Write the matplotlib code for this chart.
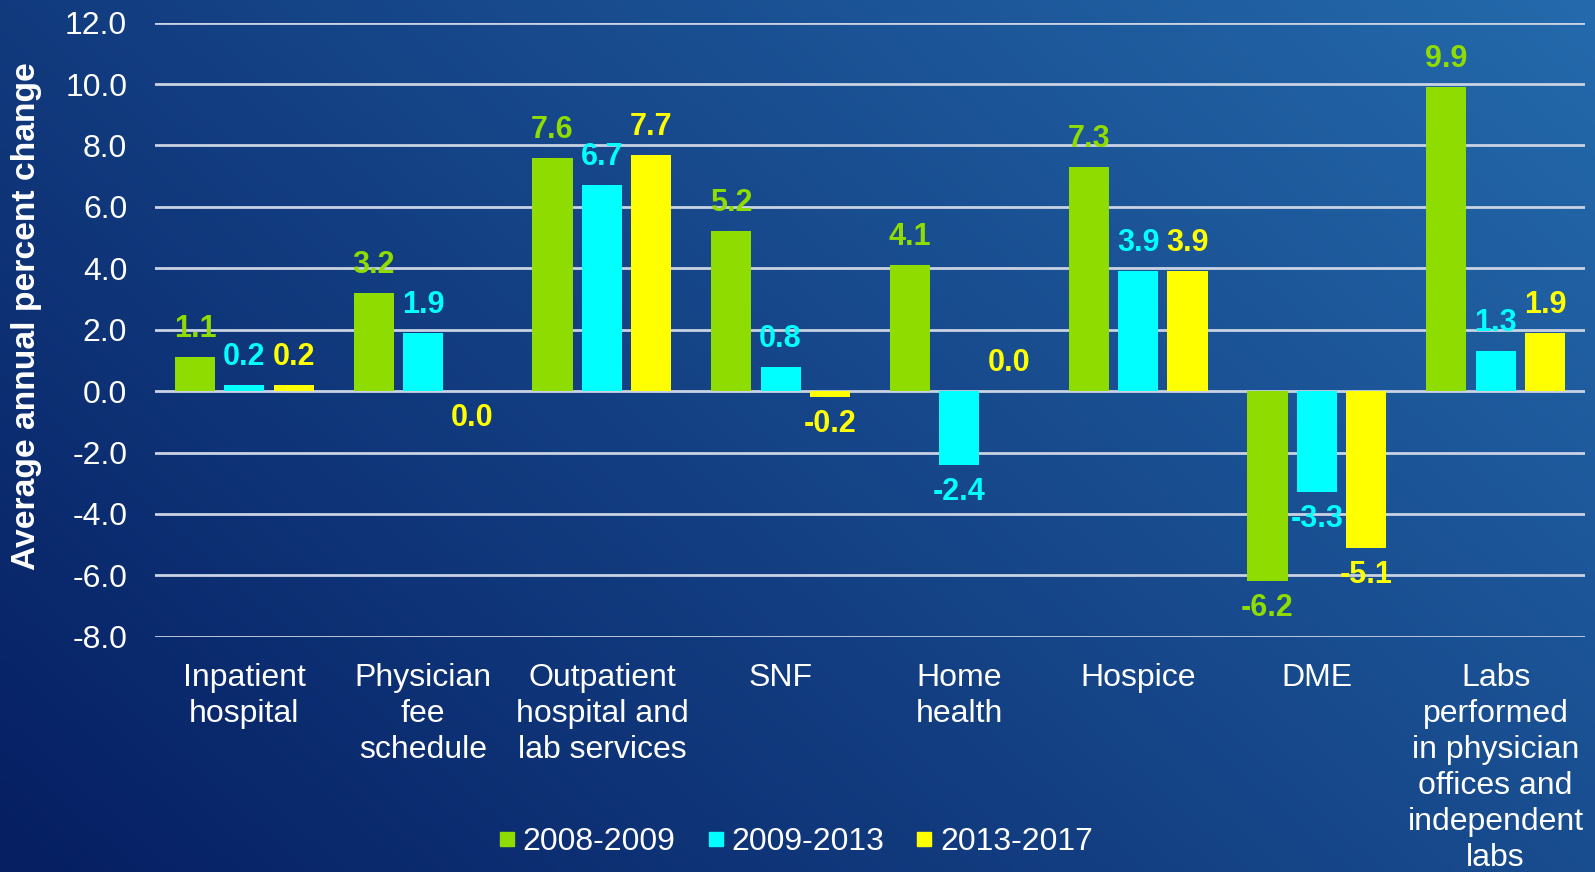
import numpy as np
import matplotlib
matplotlib.use("Agg")
import matplotlib.pyplot as plt
from matplotlib.lines import Line2D

plt.rcParams['font.family'] = ['Liberation Sans', 'DejaVu Sans']

categories = ["Inpatient\nhospital", "Physician\nfee\nschedule", "Outpatient\nhospital and\nlab services",
              "SNF", "Home\nhealth", "Hospice", "DME",
              "Labs\nperformed\nin physician\noffices and\nindependent\nlabs"]
series_names = ["2008-2009", "2009-2013", "2013-2017"]
vals_0809 = [1.1, 3.2, 7.6, 5.2, 4.1, 7.3, -6.2, 9.9]
vals_0913 = [0.2, 1.9, 6.7, 0.8, -2.4, 3.9, -3.3, 1.3]
vals_1317 = [0.2, -0.01, 7.7, -0.2, 0.0, 3.9, -5.1, 1.9]
colors = ["#8EDC00", "#00FFFF", "#FFFF00"]
yticks = np.arange(-8, 12.1, 2)

W, H = 1595, 872
fig = plt.figure(figsize=(W / 100, H / 100), dpi=100)

# gradient background
bg = fig.add_axes([0, 0, 1, 1], zorder=-10)
xx, yy = np.meshgrid(np.linspace(0, 1, 200), np.linspace(0, 1, 200))
t = np.clip(0.62 * xx + 0.38 * yy, 0, 1)
c0 = np.array([6, 30, 98]) / 255.0
c1 = np.array([36, 106, 172]) / 255.0
img = c0[None, None, :] * (1 - t[..., None]) + c1[None, None, :] * t[..., None]
bg.imshow(img, origin="lower", aspect="auto", extent=[0, 1, 0, 1], interpolation="bilinear")
bg.axis("off")

ax = fig.add_axes([155 / W, 1 - 636.7 / H, 1430 / W, (636.7 - 22.7) / H])
ax.patch.set_alpha(0)

x = np.arange(len(categories))
width = 0.225
step = 0.276
all_vals = [vals_0809, vals_0913, vals_1317]
for i, (vals, col, name) in enumerate(zip(all_vals, colors, series_names)):
    pos = x + (i - 1) * step
    ax.bar(pos, vals, width, color=col, zorder=3, label=name)
    for p, v in zip(pos, vals):
        txt = f"{abs(v):.1f}" if round(v, 1) == 0 else f"{v:.1f}"
        off = 13 if v >= 0 else -12
        va = "bottom" if v >= 0 else "top"
        ax.annotate(txt, (p, v), xytext=(0, off), textcoords="offset pixels",
                    ha="center", va=va, color=col, fontsize=22, fontweight="bold", zorder=4)

ax.set_xlim(-0.5, len(categories) - 0.5)
ax.set_ylim(-8, 12)
ax.set_yticks(yticks)
ax.set_yticklabels([f"{v:.1f}" for v in yticks], color="white", fontsize=23)
ax.set_xticks(x)
ax.set_xticklabels(categories, color="white", fontsize=23, linespacing=1.26, va="top")
ax.tick_params(axis="both", length=0)
ax.tick_params(axis="y", pad=20)
ax.tick_params(axis="x", pad=19)
ax.grid(axis="y", color="#C9D3E3", linewidth=2, zorder=0)
for s in ax.spines.values():
    s.set_visible(False)
fig.text(27 / W, 1 - 316 / H, "Average annual percent change", rotation=90, color="white",
         fontsize=24.2, fontweight="bold", ha="center", va="center")

handles = [Line2D([], [], marker="s", linestyle="none", markersize=10,
                  markerfacecolor=c, markeredgecolor=c) for c in colors]
fig.legend(handles, series_names, loc="center", bbox_to_anchor=(792 / W, 1 - 842 / H),
           ncol=3, frameon=False, fontsize=23, labelcolor="white",
           handletextpad=0.0, columnspacing=0.75, handlelength=1.0)

fig.savefig("out.png", dpi=100)
